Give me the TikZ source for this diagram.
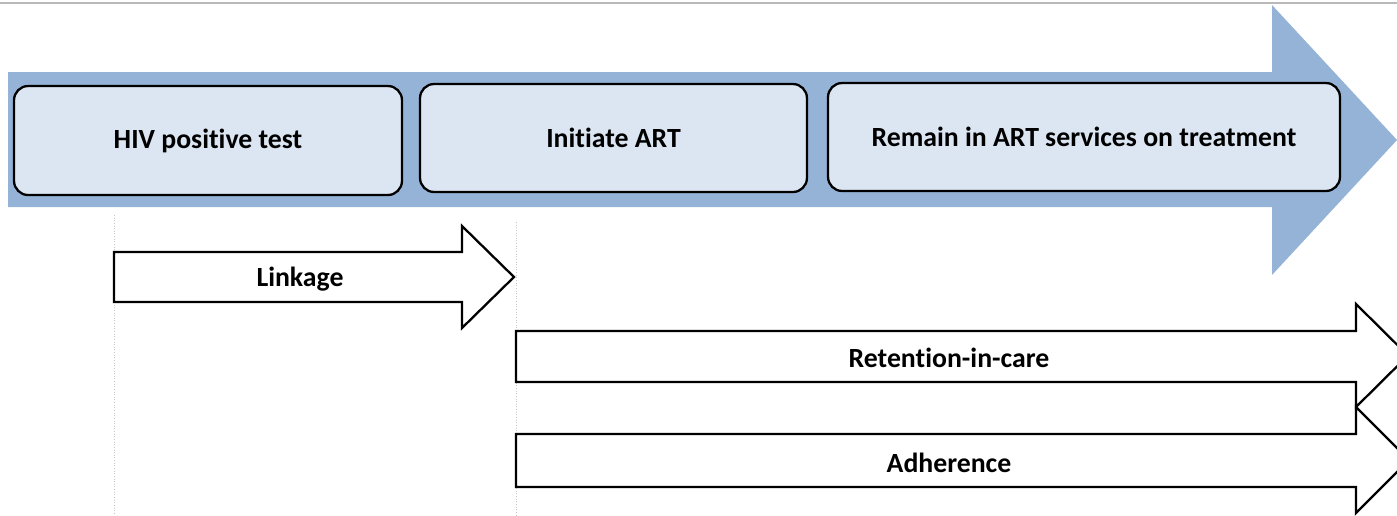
\documentclass[tikz,border=0pt]{standalone}
\usepackage{fontspec}
\setmainfont{Carlito}[Ligatures=NoCommon]
\usetikzlibrary{positioning}
\definecolor{flowblue}{HTML}{95B3D7}
\definecolor{stepfill}{HTML}{DCE6F2}
\tikzset{
  stepbox/.style={draw=black, line width=1.3pt, fill=stepfill, rounded corners=8pt, inner sep=0pt},
  steptext/.style={font=\bfseries\fontsize{15.8}{18}\selectfont},
  blockarrow/.style={draw=black, line width=1.3pt, fill=white, line join=miter},
  guide/.style={draw=gray!45, line width=0.5pt, densely dotted}
}

\begin{document}
\begin{tikzpicture}[x=0.02cm, y=-0.02cm]
    \useasboundingbox (0, 0) rectangle (1397, 515);
    \clip (0, 0) rectangle (1397, 515);

    % frame line and the big arrow
    \draw[gray!55, line width=0.8pt](0, 3)--(1397, 3);
    \fill[flowblue](8, 72)--(1272, 72)--(1272, 5)--(1397, 140)--(1272, 275)--(1272, 207)--(8, 207)--cycle;

    % stages
    \node[stepbox, steptext, minimum width=7.76cm, minimum height=2.18cm] (hiv) at (208, 140.5) {HIV positive test};
    \node[stepbox, steptext, minimum width=7.74cm, minimum height=2.16cm] (initiate) at (613.5, 138) {Initiate ART};
    \node[stepbox, steptext, minimum width=10.24cm, minimum height=2.16cm] (remain) at (1084, 137) {Remain in ART services on treatment};

    % guides
    \coordinate (gA) at (114, 215);
    \coordinate (gB) at (516, 222);
    \draw[guide](gA)--(gA |- 0, 515);
    \draw[guide](gB)--(gB |- 0, 515);

    % processes
    \draw[blockarrow](114, 252)--(462, 252)--(462, 226)--(514, 277)--(462, 328)--(462, 302)--(114, 302)--cycle;
    \draw[blockarrow](516, 331)--(1356, 331)--(1356, 304)--(1408, 355.5)--(1356, 407)--(1356, 382)--(516, 382)--cycle;
    \draw[blockarrow](516, 434)--(1356, 434)--(1356, 407)--(1409, 460)--(1356, 513)--(1356, 487)--(516, 487)--cycle;

    \node[steptext] (linkage) at (300, 279) {Linkage};
    \node[steptext] (retention) at (949, 358) {Retention-in-care};
    \node[steptext] (adherence) at (949, 463) {Adherence};
\end{tikzpicture}
\end{document}
